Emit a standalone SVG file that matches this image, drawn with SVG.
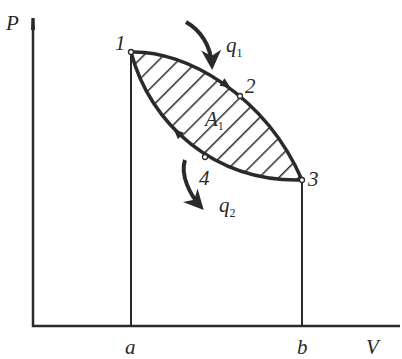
<svg xmlns="http://www.w3.org/2000/svg" width="402" height="359" viewBox="0 0 402 359">
<style>
.ax{stroke:#2a2a2a;stroke-width:2.5;fill:none}
.thin{stroke:#2a2a2a;stroke-width:2;fill:none}
.cv{stroke:#2a2a2a;stroke-width:3.5;fill:none}
.lbl{font-family:"Liberation Serif",serif;font-style:italic;font-size:21px;fill:#2a2a2a}
.sub{font-family:"Liberation Serif",serif;font-size:12px;fill:#2a2a2a}
.pt{fill:#fff;stroke:#2a2a2a;stroke-width:1.3}
</style>
<defs>
<pattern id="hp" width="14" height="14" patternUnits="userSpaceOnUse" patternTransform="rotate(45)">
<line x1="0" y1="0" x2="0" y2="14" stroke="#2a2a2a" stroke-width="3"/>
</pattern>
<marker id="heat" viewBox="0 0 10 10" refX="8" refY="5" markerWidth="5" markerHeight="5" orient="auto"><path d="M0,0 L10,5 L0,10 L3,5 Z" fill="#2a2a2a"/></marker>
</defs>
<rect width="402" height="359" fill="#fff"/>
<g id="axes">
<path class="ax" d="M33,18 V326 H400"/>
<path d="M31.5,18 L34.5,18 L35,30 L31,30 Z" fill="#2a2a2a"/>
<text class="lbl" x="6" y="30">P</text>
<text class="lbl" x="125" y="354">a</text>
<text class="lbl" x="297" y="354">b</text>
<text class="lbl" x="366" y="354">V</text>
</g>
<g id="hatch">
<path d="M131,52 C185,50 265,95 302,180 C215,182 150,125 131,52 Z" fill="url(#hp)"/>
</g>
<g id="connectors">
<path class="thin" d="M131,52 V326"/>
<path class="thin" d="M302,180 V326"/>
<path class="cv" d="M131,52 C185,50 265,95 302,180"/>
<path class="cv" d="M302,180 C215,182 150,125 131,52"/>
<polygon points="0,-4.5 10,0 0,4.5" fill="#2a2a2a" transform="translate(222,82) rotate(34)"/>
<polygon points="0,-4.5 10,0 0,4.5" fill="#2a2a2a" transform="translate(181,136) rotate(222)"/>
<path d="M186,22 C200,30 211,45 212,66" stroke="#2a2a2a" stroke-width="4" fill="none" marker-end="url(#heat)"/>
<path d="M185,160 C180,175 190,195 201,207" stroke="#2a2a2a" stroke-width="4" fill="none" marker-end="url(#heat)"/>
</g>
<g id="n1"><circle class="pt" cx="131" cy="52" r="2.5"/><text class="lbl" x="115" y="50">1</text></g>
<g id="n2"><circle class="pt" cx="240" cy="96" r="2.5"/><text class="lbl" x="245" y="93">2</text></g>
<g id="n3"><circle class="pt" cx="302" cy="180" r="2.5"/><text class="lbl" x="308" y="186">3</text></g>
<g id="n4"><circle class="pt" cx="205" cy="157" r="2.5"/><text class="lbl" x="199" y="185">4</text></g>
<g id="labels">
<text class="lbl" x="205" y="126">A<tspan class="sub" dy="4" font-style="normal">1</tspan></text>
<text class="lbl" x="226" y="52">q<tspan class="sub" dy="5" font-style="normal">1</tspan></text>
<text class="lbl" x="219" y="212">q<tspan class="sub" dy="5" font-style="normal">2</tspan></text>
</g>
</svg>
